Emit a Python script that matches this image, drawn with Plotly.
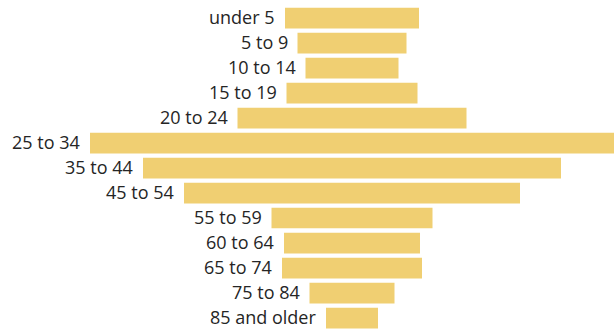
import plotly.graph_objects as go

# Age groups, top to bottom
age_groups = ["under 5", "5 to 9", "10 to 14", "15 to 19", "20 to 24", "25 to 34",
              "35 to 44", "45 to 54", "55 to 59", "60 to 64", "65 to 74", "75 to 84",
              "85 and older"]
# Population per age group (bar lengths)
population = [134, 109, 93, 131, 229, 524, 418, 336, 161, 136, 140, 85, 52]

bar_color = "#F0CF72"
label_color = "#252525"

# Centre each bar on zero
bases = [-v / 2 for v in population]

fig = go.Figure(
    go.Bar(
        y=age_groups,
        x=population,
        base=bases,
        orientation="h",
        marker=dict(color=bar_color, line=dict(width=0)),
        hoverinfo="skip",
    )
)

# Category labels sit just left of each bar
for name, b in zip(age_groups, bases):
    fig.add_annotation(
        x=b, y=name, xref="x", yref="y",
        text=name, showarrow=False,
        xanchor="right", yanchor="middle",
        xshift=-8, yshift=1,
        font=dict(family="Open Sans", size=18, color=label_color),
    )

fig.update_layout(
    width=616, height=333,
    margin=dict(l=0, r=0, t=5, b=0),
    paper_bgcolor="white", plot_bgcolor="white",
    bargap=0.17,
    showlegend=False,
    xaxis=dict(range=[-352, 264], visible=False, fixedrange=True),
    yaxis=dict(categoryorder="array", categoryarray=age_groups,
               autorange="reversed", visible=False, fixedrange=True),
)

fig.write_html("out.html", config={"displayModeBar": False})
